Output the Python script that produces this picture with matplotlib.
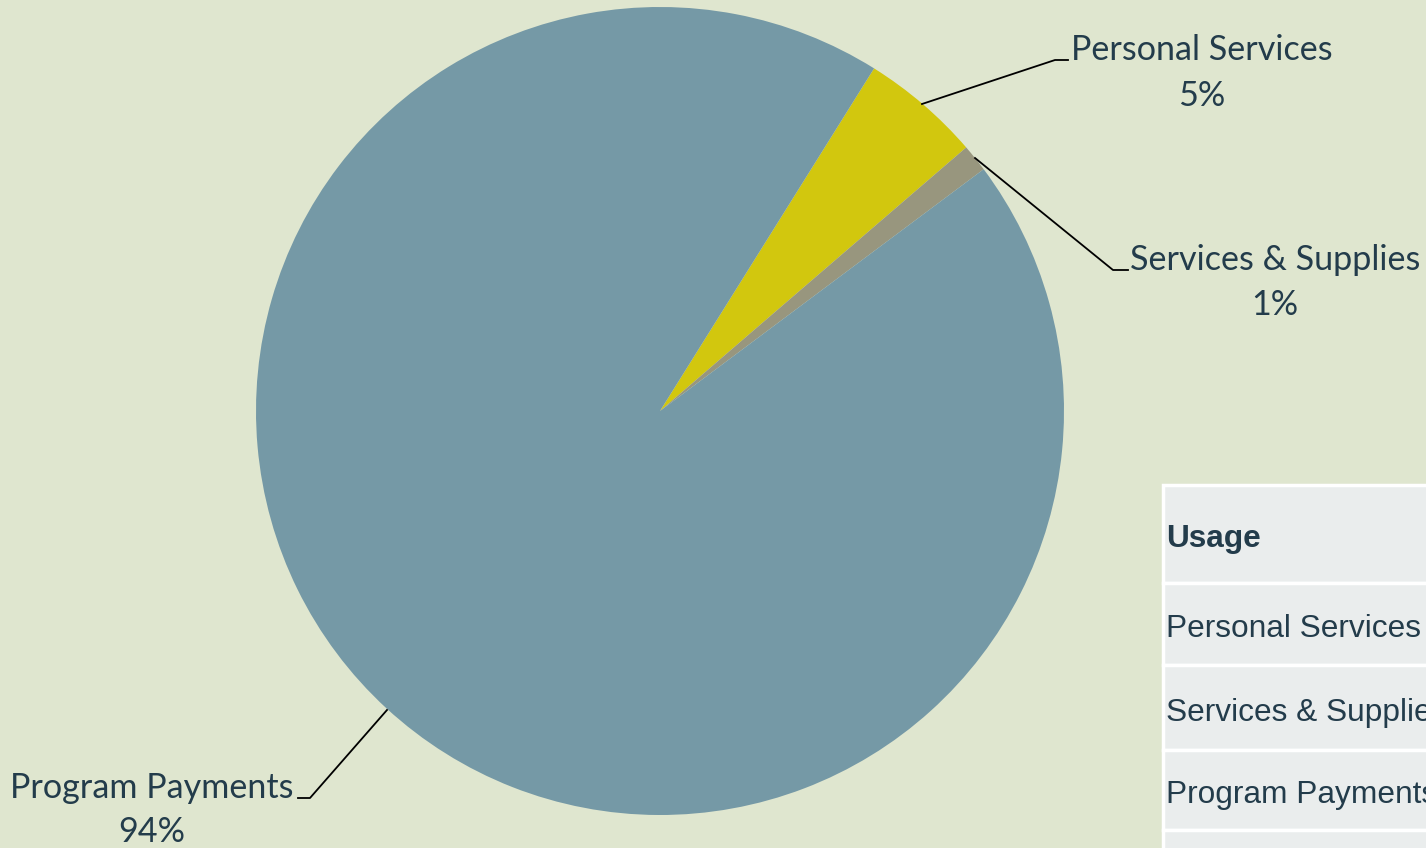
import matplotlib.pyplot as plt
from matplotlib.patches import Rectangle

# data
categories = ['Personal Services', 'Services & Supplies', 'Program Payments']
shares = [4.8, 1.1, 94.1]
pct_labels = ['5%', '1%', '94%']
colors = ['#D2C70E', '#98967E', '#7599A6']

table_header = 'Usage'
table_rows = ['Personal Services', 'Services & Supplies', 'Program Payments', '']

bg = '#DFE6CF'
txt = '#233C4B'
W, H = 1426, 848

fig = plt.figure(figsize=(W / 100, H / 100), dpi=100)
fig.patch.set_facecolor(bg)

# pie axes: centre (660, 411) px, radius 404 px
cx, cy, r = 660, 411, 404
ax = fig.add_axes([(cx - r) / W, (H - cy - r) / H, 2 * r / W, 2 * r / H])
ax.set_facecolor(bg)
ax.pie(shares, colors=colors, startangle=58, counterclock=False, radius=1,
       wedgeprops=dict(linewidth=0))
ax.set_xlim(-1, 1)
ax.set_ylim(-1, 1)
ax.set_aspect('equal')
ax.axis('off')


def d(px, py):
    return (px - cx) / r, (cy - py) / r


# label text centres and leader lines, in pixels
label_pos = [(1202, 50, 96), (1275, 260, 305), (152, 788, 832)]
leaders = [
    [(922, 104), (1055, 60), (1068, 60)],
    [(975, 158), (1113, 270), (1128, 270)],
    [(387, 710), (310, 798), (298, 798)],
]
for name, pct, (lx, ly1, ly2), pts in zip(categories, pct_labels, label_pos, leaders):
    xs, ys = zip(*[d(*p) for p in pts])
    ax.plot(xs, ys, color='black', lw=1.3, clip_on=False)
    ax.text(*d(lx, ly1), name, ha='center', va='center', fontsize=24.6,
            family='Lato', color=txt, clip_on=False)
    ax.text(*d(lx, ly2), pct, ha='center', va='center', fontsize=24.6,
            family='Lato', color=txt, clip_on=False)

# table at lower right (runs off the figure edge as in the source)
edges = [485, 583, 665, 750, 830, 910]
tx = 1163
for i, label in enumerate([table_header] + table_rows):
    top, bot = edges[i], edges[i + 1]
    fig.patches.append(Rectangle((tx / W, 1 - bot / H), (W - tx + 20) / W, (bot - top) / H,
                                 transform=fig.transFigure, facecolor='#EAEDED',
                                 edgecolor='white', lw=2.5))
    fig.text((tx + 3) / W, 1 - ((top + bot) / 2 + 5) / H, label, ha='left', va='center',
             fontsize=22.8, family='Liberation Sans',
             fontweight='bold' if i == 0 else 'normal', color=txt)

fig.savefig('out.png', dpi=100, facecolor=bg)
